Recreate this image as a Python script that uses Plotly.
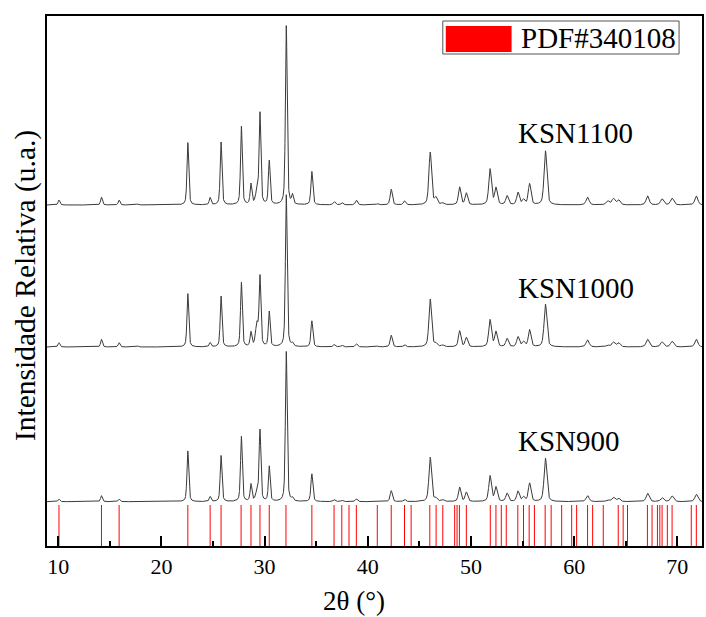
import numpy as np
import plotly.graph_objects as go

# Reflections (2θ, °) fitted in the three KSN patterns
peak_pos = [10.07, 14.19, 15.90, 17.70, 22.56, 24.72, 25.78, 27.75, 28.68, 29.25,
            29.55, 30.45, 32.10, 32.70, 34.58, 36.75, 37.50, 38.90, 40.95, 42.27,
            43.56, 46.05, 46.60, 47.25, 48.90, 49.55, 51.85, 52.42, 53.50, 54.56,
            55.09, 55.68, 57.22, 61.30, 63.25, 63.80, 64.30, 67.12, 68.52, 69.49,
            71.84]

# Peak widths (FWHM, °)
peak_fwhm = [0.20, 0.20, 0.20, 0.20, 0.20, 0.20, 0.20, 0.20, 0.20, 0.30,
             0.20, 0.20, 0.20, 0.20, 0.22, 0.25, 0.25, 0.25, 0.25, 0.25,
             0.25, 0.30, 0.30, 0.30, 0.28, 0.28, 0.30, 0.30, 0.30, 0.30,
             0.30, 0.30, 0.32, 0.35, 0.35, 0.35, 0.35, 0.35, 0.35, 0.35,
             0.35]

# Peak intensities (u.a.) for each sintering temperature
ksn900 = [2.7, 6.0, 2.7, 0.5, 50.7, 5.0, 46.0, 65.0, 17.0, 8.0,
          71.0, 35.0, 150.0, 3.0, 27.7, 2.0, 1.3, 2.7, 0.6, 11.0,
          2.3, 44.3, 3.0, 1.7, 14.3, 9.3, 25.7, 14.3, 8.3, 10.3,
          4.3, 18.3, 43.3, 6.0, 1.7, 4.3, 3.3, 8.3, 4.0, 5.7,
          7.3]
ksn1000 = [4.3, 7.7, 4.3, 1.0, 53.3, 4.3, 50.7, 64.3, 14.0, 22.0,
           69.0, 35.0, 152.0, 3.0, 26.0, 2.3, 1.7, 3.0, 0.8, 11.7,
           2.3, 47.7, 3.0, 1.7, 16.0, 9.3, 27.0, 15.0, 8.3, 10.0,
           5.0, 17.0, 42.7, 7.0, 1.7, 4.7, 4.3, 7.7, 5.0, 5.7,
           7.7]
ksn1100 = [5.0, 7.8, 5.0, 0.8, 62.3, 7.3, 62.7, 78.3, 20.3, 12.0,
           91.0, 43.7, 179.0, 9.0, 33.3, 3.3, 2.3, 4.7, 1.2, 15.7,
           4.0, 52.7, 6.7, 1.7, 17.7, 11.7, 35.7, 16.7, 9.0, 12.3,
           5.0, 21.0, 54.0, 7.7, 4.0, 6.3, 5.0, 9.0, 6.0, 6.7,
           9.0]

sample_names = ["KSN900", "KSN1000", "KSN1100"]

# Standard reflections, PDF#340108
pdf_340108 = [10.07, 14.19, 15.90, 22.56, 24.72, 25.78, 27.72, 28.68, 29.55, 30.45,
              32.07, 34.58, 36.73, 37.48, 38.18, 38.89, 40.92, 42.27, 43.56, 44.20,
              46.01, 46.62, 47.27, 48.42, 48.65, 48.88, 49.55, 51.87, 52.42, 52.94,
              53.42, 54.54, 55.09, 55.64, 56.15, 57.19, 57.77, 58.79, 59.76, 60.24,
              61.30, 61.79, 62.82, 64.27, 64.75, 65.17, 67.10, 67.55, 68.07, 68.30,
              68.52, 69.03, 69.49, 71.35, 71.84]

x_ticks = [10, 20, 30, 40, 50, 60, 70]

# ---- figure geometry (pixels) ----
W, H = 706, 617
L, R, T, B = 47, 2, 16, 71
PW, PH = W - L - R, H - T - B
X_RANGE = [8.91, 72.39]
Y_RANGE = [0, PH]

# vertical stacking of the patterns
offsets = [44.3, 199.0, 341.0]
stick_top = 41.0

two_theta = np.arange(X_RANGE[0], X_RANGE[1], 0.01)


def pattern(heights):
    """Pseudo-Voigt sum of the listed reflections."""
    y = np.zeros_like(two_theta)
    for c, w, h in zip(peak_pos, peak_fwhm, heights):
        d = (two_theta - c) / (w / 2.0)
        y += h * (0.5 / (1.0 + d ** 2) + 0.5 * np.exp(-np.log(2) * d ** 2))
    return y


def px_x(px):
    return (px - L) / PW


def px_y(py):
    return (H - B - py) / PH


fig = go.Figure()

# reference sticks
sx, sy = [], []
for p in pdf_340108:
    sx += [p, p, None]
    sy += [0, stick_top, None]
fig.add_trace(go.Scatter(x=sx, y=sy, mode="lines",
                         line=dict(color="#ff0000", width=1),
                         hoverinfo="skip", showlegend=False))

for name, heights, off in zip(sample_names, [ksn900, ksn1000, ksn1100], offsets):
    fig.add_trace(go.Scatter(x=two_theta, y=pattern(heights) + off,
                             mode="lines", name=name,
                             line=dict(color="#3a3a3a", width=1),
                             showlegend=False))

serif = "Liberation Serif, Times New Roman, serif"

annotations = []
label_y = [105, 258.5, 413]
for name, ly in zip(sample_names, label_y):
    annotations.append(dict(x=54.32, y=ly, xref="x", yref="y", text=name,
                            showarrow=False, xanchor="left", yanchor="middle",
                            font=dict(family=serif, size=29, color="black")))

annotations.append(dict(x=px_x(355), y=px_y(601), xref="paper", yref="paper",
                        text="2θ (°)", showarrow=False, xanchor="center",
                        yanchor="middle", font=dict(family=serif, size=27, color="black")))
annotations.append(dict(x=px_x(25), y=px_y(286), xref="paper", yref="paper",
                        text="Intensidade Relativa (u.a.)", textangle=-90,
                        showarrow=False, xanchor="center", yanchor="middle",
                        font=dict(family=serif, size=29.5, color="black")))

# legend
annotations.append(dict(x=px_x(520), y=px_y(38), xref="paper", yref="paper",
                        text="PDF#340108", showarrow=False, xanchor="left",
                        yanchor="middle", font=dict(family=serif, size=29, color="black")))
shapes = [
    dict(type="rect", xref="paper", yref="paper",
         x0=px_x(444), x1=px_x(681), y0=px_y(54), y1=px_y(21),
         line=dict(color="#555555", width=1), fillcolor="white", layer="above"),
    dict(type="rect", xref="paper", yref="paper",
         x0=px_x(447), x1=px_x(513), y0=px_y(52), y1=px_y(26),
         line=dict(width=0), fillcolor="#ff0000", layer="above"),
]

fig.update_layout(
    width=W, height=H,
    margin=dict(l=L, r=R, t=T, b=B),
    paper_bgcolor="white", plot_bgcolor="white",
    showlegend=False,
    font=dict(family=serif, color="black"),
    annotations=annotations,
    shapes=shapes,
    xaxis=dict(range=X_RANGE, tickmode="array", tickvals=x_ticks,
               ticks="inside", ticklen=10, tickwidth=2, tickcolor="black",
               minor=dict(ticks="inside", ticklen=5, tickwidth=2, dtick=5,
                          tick0=5, tickcolor="black"),
               showline=True, linecolor="black", linewidth=2, mirror=True,
               showgrid=False, zeroline=False,
               tickfont=dict(family=serif, size=22, color="black")),
    yaxis=dict(range=Y_RANGE, showticklabels=False, ticks="",
               showline=True, linecolor="black", linewidth=2, mirror=True,
               showgrid=False, zeroline=False),
)

fig.write_html("out.html")
